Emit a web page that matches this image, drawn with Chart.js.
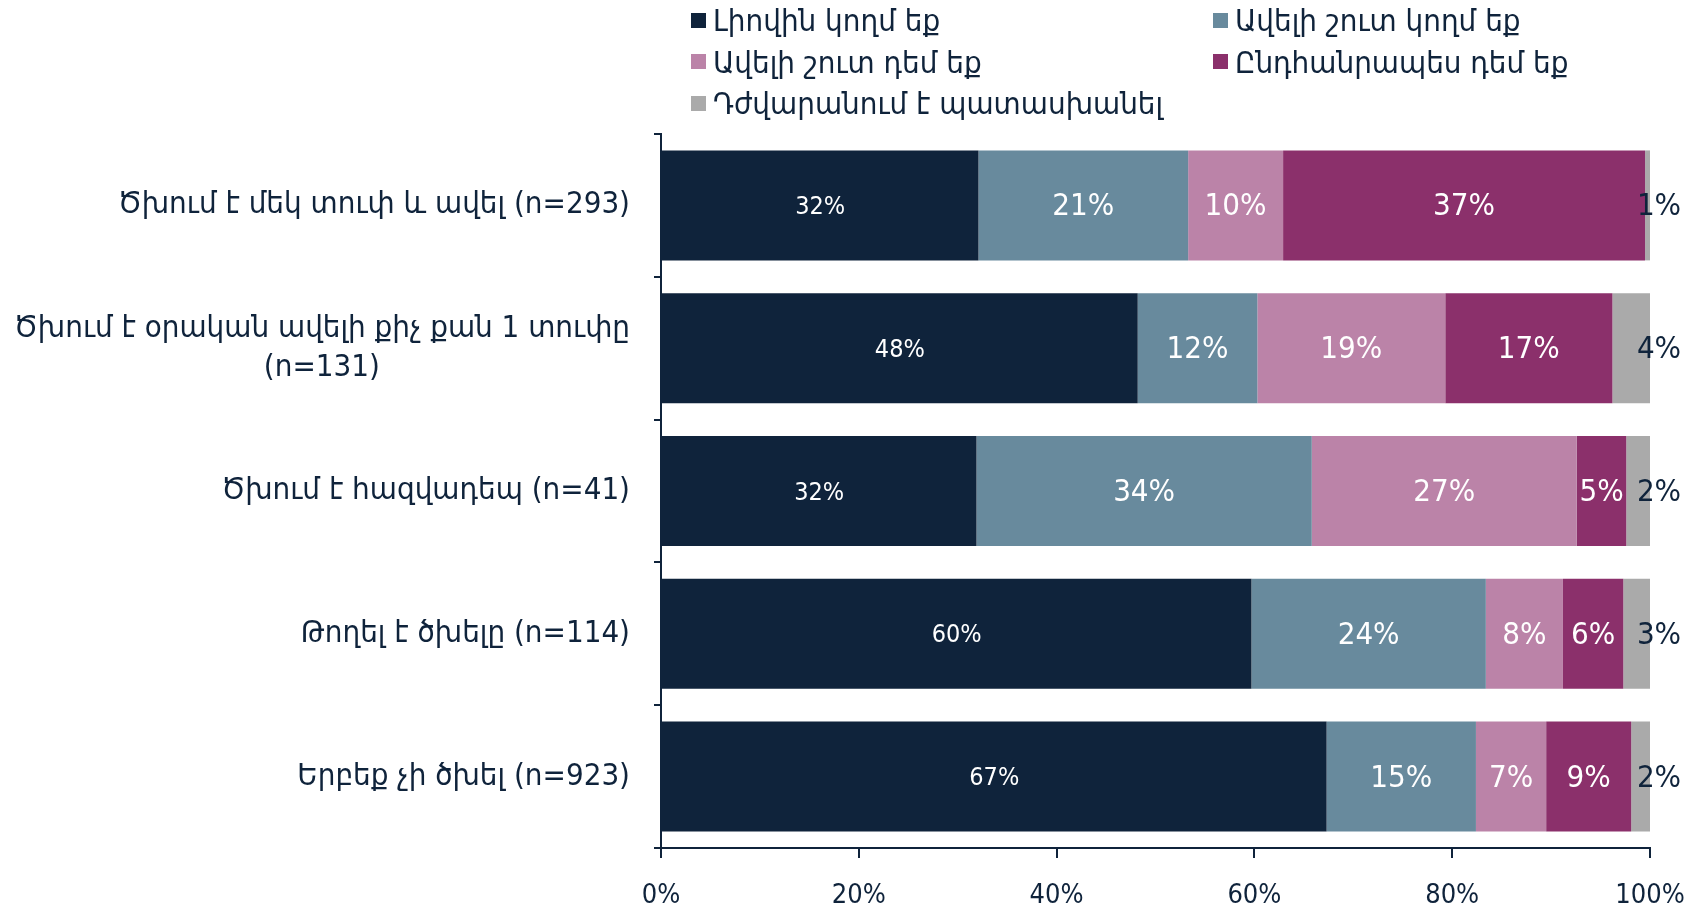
<!DOCTYPE html>
<html>
<head>
<meta charset="utf-8">
<script src="https://cdn.jsdelivr.net/npm/chart.js@4"></script>
<style>
  body { margin: 0; background: #fff; }
  #wrap { position: relative; width: 1704px; height: 905px; }
  .lg { position: absolute; display: flex; align-items: center; font: 31px "DejaVu Sans Condensed", "DejaVu Sans"; color: #0f233b; white-space: nowrap; transform: translateY(-50%); }
  .lg i { display: inline-block; width: 15px; height: 15px; margin-right: 7px; }
</style>
</head>
<body>
<div id="wrap"><canvas id="chart"></canvas><div id="legend"></div></div>
<script>
const categories = [
    ["Ծխում է մեկ տուփ և ավել (n=293)"],
    ["Ծխում է օրական ավելի քիչ քան 1 տուփը", "(n=131)"],
    ["Ծխում է հազվադեպ (n=41)"],
    ["Թողել է ծխելը (n=114)"],
    ["Երբեք չի ծխել (n=923)"]
];
const seriesNames = ["Լիովին կողմ եք", "Ավելի շուտ կողմ եք", "Ավելի շուտ դեմ եք", "Ընդհանրապես դեմ եք", "Դժվարանում է պատասխանել"];
const seriesColors = ["#0f233b", "#688a9d", "#bb83a8", "#8b306b", "#aaaaaa"];
const fullyFor    = [32.1, 48.2, 31.9, 59.7, 67.3];
const ratherFor   = [21.2, 12.1, 33.9, 23.7, 15.1];
const ratherAgst  = [9.6, 19.0, 26.8, 7.8, 7.1];
const fullyAgst   = [36.6, 16.9, 5.0, 6.1, 8.6];
const hardToSay   = [0.5, 3.8, 2.4, 2.7, 1.9];
const xTicks = [0, 20, 40, 60, 80, 100];

const FONT = '"DejaVu Sans Condensed", "DejaVu Sans", sans-serif';
const NAVY = "#0f233b";

// legend (2 columns)
const lg = document.getElementById("legend");
seriesNames.forEach((n, i) => {
    const d = document.createElement("div");
    d.className = "lg";
    d.style.left = (i % 2 ? 1213 : 691) + "px";
    d.style.top = (20 + Math.floor(i / 2) * 41.5) + "px";
    d.innerHTML = `<i style="background:${seriesColors[i]}"></i>${n}`;
    lg.appendChild(d);
});

// category labels: block right-aligned, lines centered inside the block
const catLabels = {
    id: "catLabels",
    afterDraw(chart) {
        const ctx = chart.ctx, y = chart.scales.y;
        const right = chart.chartArea.left - 31;
        ctx.save();
        ctx.font = "31px " + FONT;
        ctx.fillStyle = NAVY;
        ctx.textAlign = "center";
        ctx.textBaseline = "middle";
        categories.forEach((lines, i) => {
            const w = Math.max(...lines.map(l => ctx.measureText(l).width));
            const cy = y.getPixelForTick(i);
            const lh = 39;
            lines.forEach((l, k) => {
                ctx.fillText(l, right - w / 2, cy + (k - (lines.length - 1) / 2) * lh);
            });
        });
        ctx.restore();
    }
};

// value labels on the bars
const valLabels = {
    id: "valLabels",
    afterDatasetsDraw(chart) {
        const ctx = chart.ctx;
        const xEnd = chart.scales.x.getPixelForValue(100);
        ctx.save();
        ctx.textAlign = "center";
        ctx.textBaseline = "middle";
        chart.data.datasets.forEach((ds, di) => {
            const meta = chart.getDatasetMeta(di);
            meta.data.forEach((bar, i) => {
                const v = Math.round(ds.data[i]) + "%";
                const last = di === chart.data.datasets.length - 1;
                ctx.font = (di === 0 ? "25px " : "31px ") + FONT;
                ctx.fillStyle = last ? NAVY : "#ffffff";
                const cx = last ? xEnd + 9 : (bar.x + bar.base) / 2;
                ctx.fillText(v, cx, bar.y + 2);
            });
        });
        ctx.restore();
    }
};

const seriesData = [fullyFor, ratherFor, ratherAgst, fullyAgst, hardToSay];

new Chart(document.getElementById("chart"), {
    type: "bar",
    data: {
        labels: categories,
        datasets: seriesData.map((d, i) => ({
            label: seriesNames[i],
            data: d,
            backgroundColor: seriesColors[i],
            borderWidth: 0,
            categoryPercentage: 1,
            barPercentage: 0.77
        }))
    },
    options: {
        indexAxis: "y",
        responsive: true,
        maintainAspectRatio: false,
        animation: false,
        layout: { padding: { top: 134, right: 54, left: 0, bottom: 0 } },
        plugins: { legend: { display: false }, tooltip: { enabled: false } },
        scales: {
            x: {
                stacked: true, min: 0, max: 100,
                afterBuildTicks: s => { s.ticks = xTicks.map(v => ({ value: v })); },
                afterFit: s => { s.height = 57; s.paddingRight = 0; },
                ticks: { callback: v => v + "%", color: NAVY, font: { family: FONT, size: 27 }, padding: 22, maxRotation: 0 },
                grid: { drawOnChartArea: false, tickLength: 10, color: NAVY, lineWidth: 2 },
                border: { color: NAVY, width: 2 }
            },
            y: {
                stacked: true,
                afterFit: s => { s.width = 661; },
                ticks: { display: false },
                grid: { offset: true, drawOnChartArea: false, tickLength: 7, color: NAVY, lineWidth: 2 },
                border: { color: NAVY, width: 2 }
            }
        }
    },
    plugins: [catLabels, valLabels]
});
</script>
</body>
</html>
